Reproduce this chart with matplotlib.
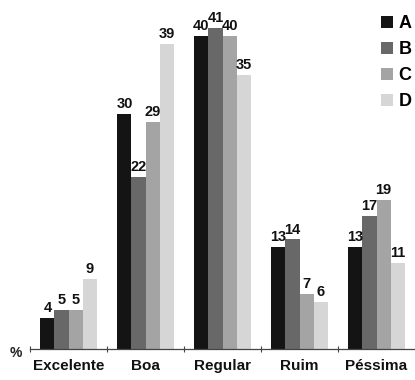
import matplotlib
matplotlib.use("Agg")
import matplotlib.pyplot as plt
from matplotlib.patches import Patch
import numpy as np

categories = ["Excelente", "Boa", "Regular", "Ruim", "Péssima"]
series = ["A", "B", "C", "D"]
values_a = [4, 30, 40, 13, 13]
values_b = [5, 22, 41, 14, 17]
values_c = [5, 29, 40, 7, 19]
values_d = [9, 39, 35, 6, 11]

colors = ["#141414", "#686868", "#a4a4a4", "#d6d6d6"]

plt.rcParams["font.family"] = ["Liberation Sans", "DejaVu Sans"]

fig = plt.figure(figsize=(4.15, 3.80), dpi=100)
ax = fig.add_axes([30 / 415, 31 / 380, 385 / 415, 344.5 / 380])

x = np.arange(len(categories))
width = 0.182
all_values = [values_a, values_b, values_c, values_d]
for i, (vals, color) in enumerate(zip(all_values, colors)):
    pos = x + (i - 1.5) * width
    ax.bar(pos, vals, width=width, color=color, edgecolor="none")
    for px, v in zip(pos, vals):
        ax.text(px, v + 0.35, str(v), ha="center", va="bottom",
                fontsize=10.5, fontweight="bold", color="#111111")

ax.set_xlim(-0.5, 4.5)
ax.set_ylim(0, 44)
ax.set_xticks(np.arange(-0.5, 4.5, 1.0))
ax.set_xticklabels([])
ax.set_yticks([])
ax.tick_params(axis="x", direction="inout", length=5, width=0.8, color="#444444")
for name in ("top", "right", "left"):
    ax.spines[name].set_visible(False)
ax.spines["bottom"].set_color("#444444")
ax.spines["bottom"].set_linewidth(0.9)

for xi, cat in zip(x, categories):
    ax.text(xi, -1.3, cat, ha="center", va="top", fontsize=11,
            fontweight="bold", color="#111111")

fig.text(10 / 415, 1 - 353 / 380, "%", ha="left", va="center",
         fontsize=10, fontweight="bold", color="#222222")

handles = [Patch(facecolor=c, edgecolor="none") for c in colors]
leg = ax.legend(handles, series, loc="upper right", bbox_to_anchor=(1.01, 0.99),
                frameon=False, handlelength=0.7, handleheight=0.7,
                handletextpad=0.3, labelspacing=0.5, borderaxespad=0.0,
                prop={"weight": "bold", "size": 13})

fig.savefig("out.png", dpi=100)
